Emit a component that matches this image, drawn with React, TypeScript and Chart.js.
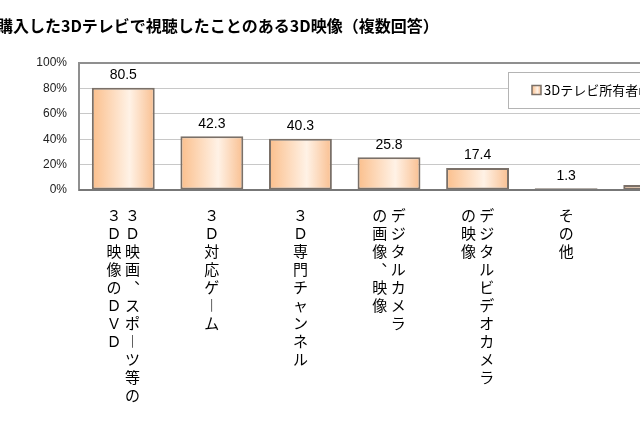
import React, { useEffect, useRef } from "react";
import { Chart, registerables } from "chart.js";

Chart.register(...registerables);

const TITLE = "購入した3Dテレビで視聴したことのある3D映像（複数回答）";
const SERIES_LABEL = "3Dテレビ所有者n=";
// Each category is written vertically: first column (right) first, second column (left) next.
const CATEGORY_COLUMNS: string[][] = [
  ["３Ｄ映画︑スポ︱ツ等の", "３Ｄ映像のＤＶＤ"],
  ["３Ｄ対応ゲ︱ム"],
  ["３Ｄ専門チャンネル"],
  ["デジタルカメラ", "の画像︑映像"],
  ["デジタルビデオカメラ", "の映像"],
  ["その他"],
  ["無回答"],
];
const VALUES = [80.5, 42.3, 40.3, 25.8, 17.4, 1.3, 4.0];
const Y_TICKS = [0, 20, 40, 60, 80, 100];

const BAR_PCT = 0.71;
const JP = "'Noto Sans CJK JP', 'Noto Sans', sans-serif";
const LAT = "'Liberation Sans', Arial, sans-serif";

function verticalLines(cols: string[]): string[] {
  const c = cols.map((s) => Array.from(s));
  const rows = Math.max(...c.map((a) => a.length));
  const out: string[] = [];
  for (let i = 0; i < rows; i++) {
    if (c.length === 1) {
      out.push(c[0][i] ?? "　");
    } else {
      const right = c[0][i] ?? "　";
      const left = c[1][i] ?? "　";
      out.push(left + " " + right);
    }
  }
  return out;
}

const LABELS = CATEGORY_COLUMNS.map(verticalLines);

function barGradient(ctx: CanvasRenderingContext2D, x0: number, x1: number) {
  const g = ctx.createLinearGradient(x0, 0, x1, 0);
  g.addColorStop(0, "#fbbf8c");
  g.addColorStop(0.6, "#fff2e6");
  g.addColorStop(1, "#f9bf90");
  return g;
}

const framePlugin = {
  id: "frame",
  afterDatasetsDraw(chart: any) {
    const { ctx, chartArea: a } = chart;
    ctx.save();
    ctx.strokeStyle = "#8f8f8f";
    ctx.lineWidth = 2;
    ctx.strokeRect(a.left, a.top, a.right - a.left, a.bottom - a.top);
    ctx.strokeStyle = "#777";
    ctx.beginPath();
    ctx.moveTo(a.left, a.bottom);
    ctx.lineTo(a.right, a.bottom);
    ctx.stroke();
    ctx.restore();
  },
};

const valueLabelPlugin = {
  id: "valueLabels",
  afterDatasetsDraw(chart: any) {
    const { ctx } = chart;
    const meta = chart.getDatasetMeta(0);
    ctx.save();
    ctx.fillStyle = "#000";
    ctx.font = `14px ${LAT}`;
    ctx.textAlign = "center";
    ctx.textBaseline = "alphabetic";
    meta.data.forEach((el: any, i: number) => {
      const v = chart.data.datasets[0].data[i];
      ctx.fillText(Number(v).toFixed(1), el.x, el.y - 8.5);
    });
    ctx.restore();
  },
};

const legendPlugin = {
  id: "boxLegend",
  afterDraw(chart: any) {
    const { ctx, chartArea: a } = chart;
    const x = a.left + 429;
    const y = a.top + 9;
    const w = 240;
    const h = 36;
    ctx.save();
    ctx.fillStyle = "#fff";
    ctx.fillRect(x, y, w, h);
    ctx.strokeStyle = "#b4b4b4";
    ctx.lineWidth = 1;
    ctx.strokeRect(x + 0.5, y + 0.5, w, h);
    const mx = x + 24;
    const my = y + h / 2 - 4.5;
    ctx.fillStyle = barGradient(ctx, mx, mx + 9);
    ctx.fillRect(mx, my, 9, 9);
    ctx.strokeStyle = "#7a7068";
    ctx.lineWidth = 1.5;
    ctx.strokeRect(mx, my, 9, 9);
    ctx.fillStyle = "#000";
    ctx.font = `13px ${JP}`;
    ctx.textBaseline = "middle";
    ctx.textAlign = "left";
    ctx.fillText(chart.data.datasets[0].label, mx + 12, y + h / 2 + 0.5);
    ctx.restore();
  },
};

export default function App() {
  const ref = useRef<HTMLCanvasElement | null>(null);

  useEffect(() => {
    if (!ref.current) return;
    const chart = new Chart(ref.current, {
      type: "bar",
      data: {
        labels: LABELS,
        datasets: [
          {
            label: SERIES_LABEL,
            data: VALUES,
            borderColor: "#7a7068",
            borderWidth: 2,
            borderSkipped: false,
            barPercentage: BAR_PCT,
            categoryPercentage: 1,
            backgroundColor: (c: any) => {
              const chart = c.chart;
              if (!chart.chartArea || c.dataIndex == null) return "#fcd2ad";
              const xs = chart.scales.x;
              const cx = xs.getPixelForValue(c.dataIndex);
              const w = (xs.width / VALUES.length) * BAR_PCT;
              return barGradient(chart.ctx, cx - w / 2, cx + w / 2);
            },
          },
        ],
      },
      options: {
        responsive: false,
        animation: false,
        layout: { padding: 0 },
        plugins: {
          legend: { display: false },
          tooltip: { enabled: false },
          title: {
            display: true,
            text: TITLE,
            align: "start",
            color: "#000",
            font: { size: 16, weight: "bold", family: JP, lineHeight: 1.2 },
            padding: { top: 16.4, bottom: 27.4 },
          },
        },
        scales: {
          x: {
            grid: { display: false, drawTicks: false },
            border: { display: false },
            ticks: {
              autoSkip: false,
              maxRotation: 0,
              minRotation: 0,
              padding: 16,
              color: "#000",
              font: { size: 15, family: JP, lineHeight: "18px" },
            },
            afterFit: (s: any) => {
              s.height = 236;
            },
          },
          y: {
            min: 0,
            max: 100,
            afterBuildTicks: (s: any) => {
              s.ticks = Y_TICKS.map((v) => ({ value: v }));
            },
            ticks: {
              padding: 12,
              color: "#222",
              font: { size: 12, family: LAT },
              callback: (v: any) => `${v}%`,
            },
            grid: { color: "#c8c8c8", drawTicks: false, lineWidth: 1 },
            border: { display: false },
            afterFit: (s: any) => {
              s.width = 82;
            },
          },
        },
      },
      plugins: [framePlugin, valueLabelPlugin, legendPlugin],
    });
    return () => chart.destroy();
  }, []);

  return (
    <div
      style={{
        position: "fixed",
        left: 0,
        top: 0,
        width: 640,
        height: 426,
        overflow: "hidden",
        background: "#fff",
      }}
    >
      <canvas
        ref={ref}
        width={702}
        height={426}
        style={{ position: "absolute", left: -3, top: 0 }}
      />
    </div>
  );
}
